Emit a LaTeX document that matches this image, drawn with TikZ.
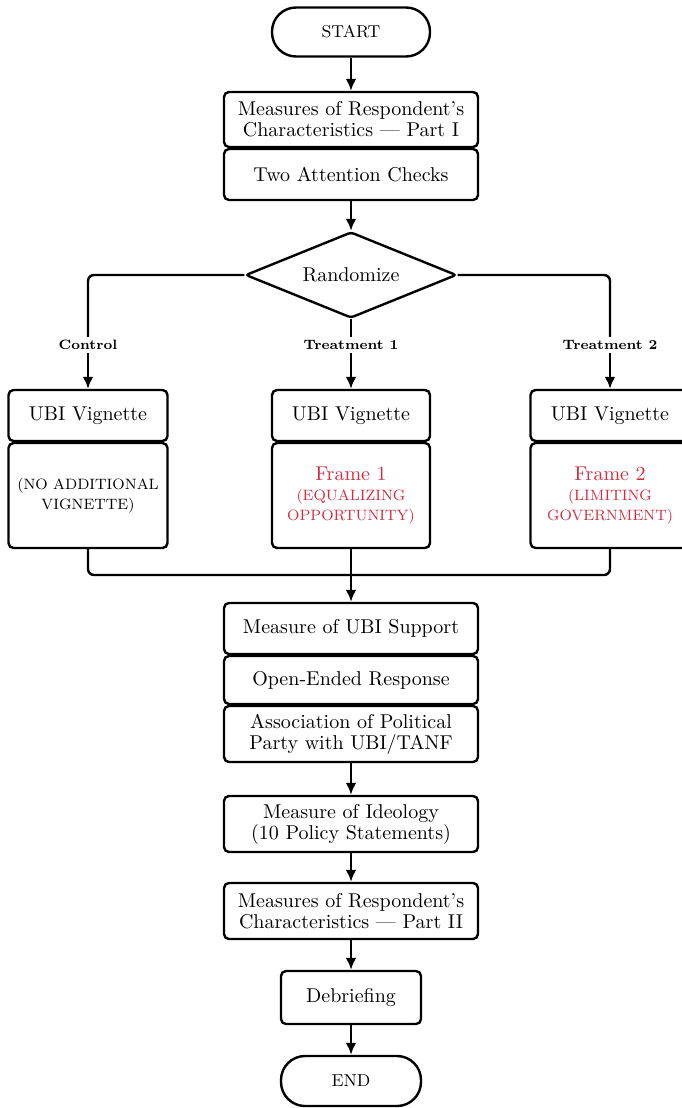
\documentclass[tikz,border=0pt]{standalone}
\usetikzlibrary{arrows.meta,shapes.geometric}
\definecolor{framered}{RGB}{208,44,64}
\begin{document}
\begin{tikzpicture}[x=0.5pt,y=-0.5pt,
  box/.style={draw,line width=1.2pt,rounded corners=2.5pt,align=center,inner sep=0pt,
    font=\fontsize{10}{10.5}\selectfont},
  term/.style={draw,line width=1.2pt,rounded corners=12pt,align=center,inner sep=0pt,
    font=\fontsize{8.6}{10}\selectfont},
  dia/.style={draw,line width=1.2pt,shape=diamond,aspect=2.45,rounded corners=1.5pt,inner sep=0pt,
    minimum width=105.5pt,minimum height=43pt,font=\fontsize{10}{10.5}\selectfont},
  framebox/.style={box,font=\fontsize{7.5}{10}\selectfont},
  lbl/.style={font=\bfseries\fontsize{6.8}{8}\selectfont,inner sep=1.5pt},
  conn/.style={line width=1.2pt},
  arr/.style={line width=1.2pt,-{Latex[length=6pt,width=5.4pt]}}
]
\useasboundingbox (0,0) rectangle (681,1108);
% top
\node[term,minimum width=79pt,minimum height=24.5pt] (start) at (351,32) {START};
\node[box,minimum width=127pt,minimum height=27.5pt] (m1) at (351,119.5) {Measures of Respondent's\\Characteristics --- Part I};
\node[box,minimum width=127pt,minimum height=25.5pt] (m2) at (351,174.5) {Two Attention Checks};
\node[dia] (rand) at (351,275) {Randomize};
% labels
\node[lbl] (lc) at (88,345) {Control};
\node[lbl] (l1) at (351,345) {Treatment 1};
\node[lbl] (l2) at (610,345) {Treatment 2};
% branches
\node[box,minimum width=79.5pt,minimum height=25.5pt] (v0) at (88,415.5) {UBI Vignette};
\node[framebox,minimum width=79.5pt,minimum height=52.5pt] (f0) at (88,495.5) {(NO ADDITIONAL\\VIGNETTE)};
\node[box,minimum width=79pt,minimum height=25.5pt] (v1) at (351,415.5) {UBI Vignette};
\node[framebox,minimum width=79pt,minimum height=52.5pt] (f1) at (351,495.5) {\color{framered}{\fontsize{10}{10.5}\selectfont Frame 1}\\\color{framered}(EQUALIZING\\\color{framered}OPPORTUNITY)};
\node[box,minimum width=79.5pt,minimum height=25.5pt] (v2) at (610,415.5) {UBI Vignette};
\node[framebox,minimum width=79.5pt,minimum height=52.5pt] (f2) at (610,495.5) {\color{framered}{\fontsize{10}{10.5}\selectfont Frame 2}\\\color{framered}(LIMITING\\\color{framered}GOVERNMENT)};
\coordinate (j) at (351,575);
% lower
\node[box,minimum width=127pt,minimum height=25.5pt] (s1) at (351,628.5) {Measure of UBI Support};
\node[box,minimum width=127pt,minimum height=24pt] (s2) at (351,680) {Open-Ended Response};
\node[box,minimum width=127pt,minimum height=28pt] (s3) at (351,734) {Association of Political\\Party with UBI/TANF};
\node[box,minimum width=127pt,minimum height=28pt] (ideo) at (351,824) {Measure of Ideology\\(10 Policy Statements)};
\node[box,minimum width=127pt,minimum height=28pt] (m3) at (351,911) {Measures of Respondent's\\Characteristics --- Part II};
\node[box,minimum width=70pt,minimum height=26.5pt] (deb) at (351,997.5) {Debriefing};
\node[term,minimum width=70pt,minimum height=25pt] (end) at (351,1081) {END};
% connectors
\draw[arr] (start) -- (m1);
\draw[arr] (m2) -- (rand);
\draw[conn,rounded corners=3pt] (rand.west) -| (lc.north);
\draw[arr] (lc.south) -- (v0.north);
\draw[conn] (rand.south) -- (l1.north);
\draw[arr] (l1.south) -- (v1.north);
\draw[conn,rounded corners=3pt] (rand.east) -| (l2.north);
\draw[arr] (l2.south) -- (v2.north);
\draw[conn,rounded corners=3pt] (f0.south) |- (j);
\draw[conn,rounded corners=3pt] (f2.south) |- (j);
\draw[arr] (f1.south) -- (s1.north);
\draw[arr] (s3) -- (ideo);
\draw[arr] (ideo) -- (m3);
\draw[arr] (m3) -- (deb);
\draw[arr] (deb) -- (end);
\end{tikzpicture}
\end{document}
